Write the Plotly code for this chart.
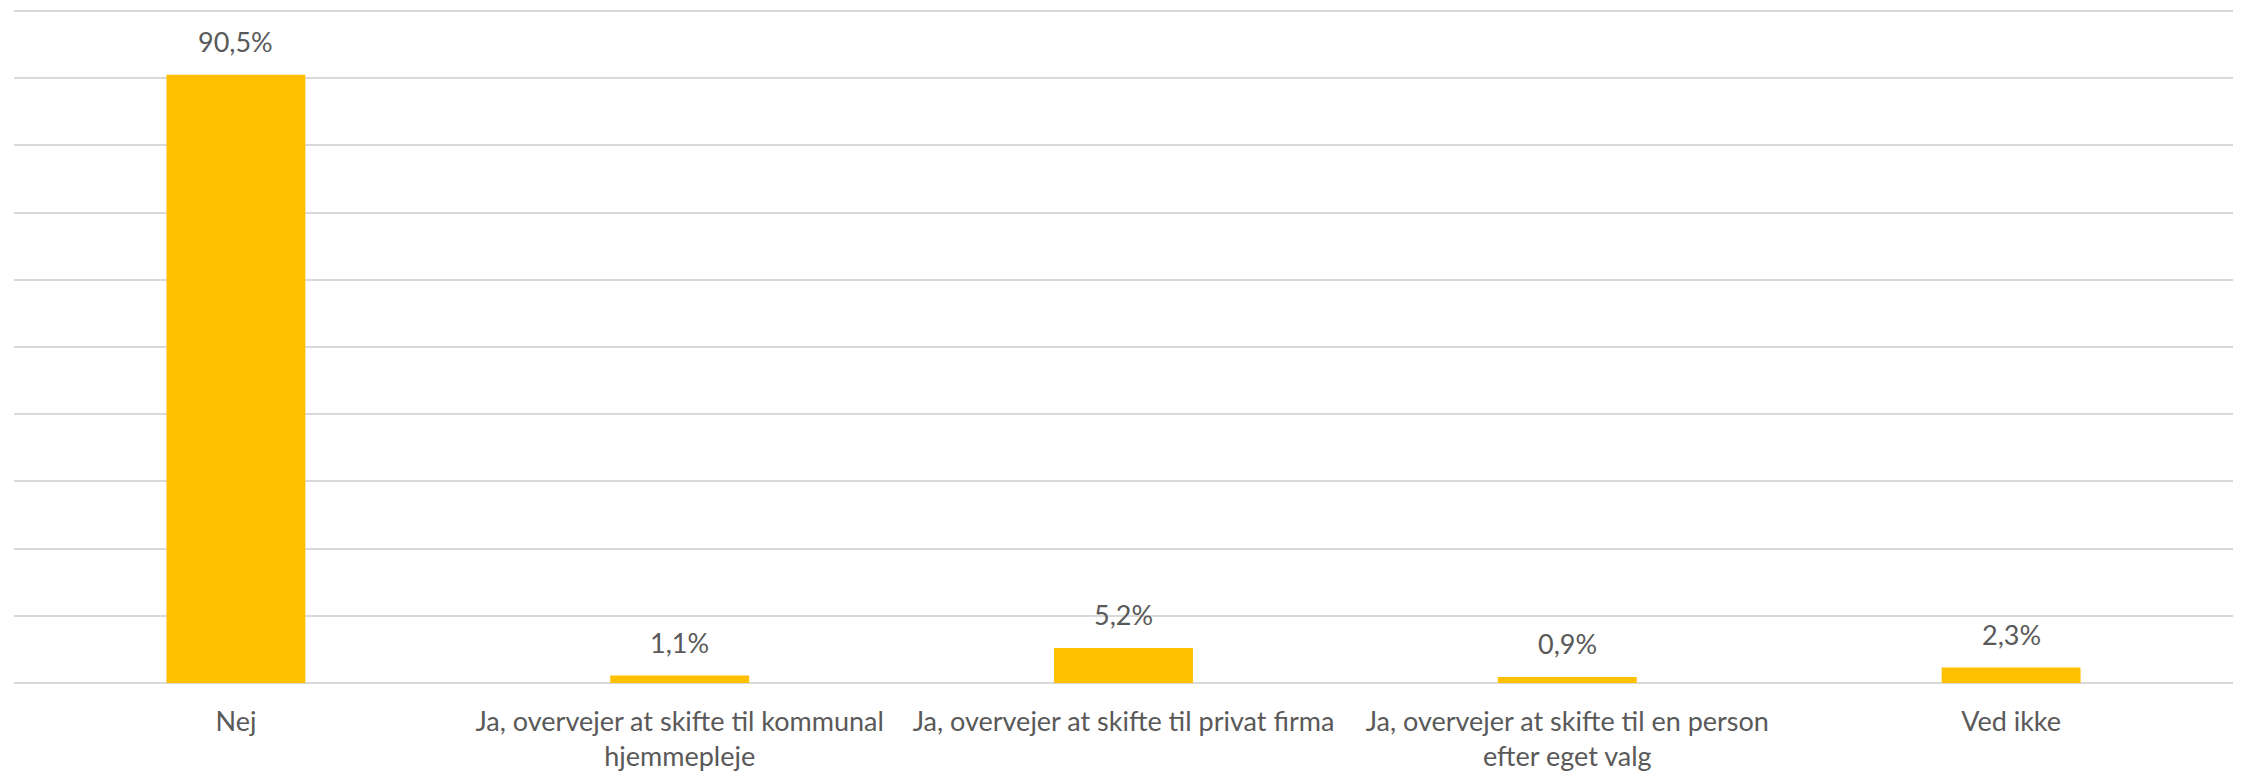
import plotly.graph_objects as go

# Survey answers and their shares (percent)
categories = [
    "Nej",
    "Ja, overvejer at skifte til kommunal<br>hjemmepleje",
    "Ja, overvejer at skifte til privat firma",
    "Ja, overvejer at skifte til en person<br>efter eget valg",
    "Ved ikke",
]
shares = [90.5, 1.1, 5.2, 0.9, 2.3]

FONT = "Lato"
TEXT_COLOR = "#595959"
BAR_COLOR = "#FFC000"
GRID_COLOR = "#D9D9D9"
Y_MAX = 100.6

fig = go.Figure(
    go.Bar(
        x=categories,
        y=shares,
        marker=dict(color=BAR_COLOR, line=dict(width=0)),
        hoverinfo="skip",
    )
)

# Value labels above each bar
for cat, val in zip(categories, shares):
    fig.add_annotation(
        x=cat,
        y=val,
        text=f"{val:.1f}%".replace(".", ","),
        showarrow=False,
        yanchor="bottom",
        yshift=15,
        font=dict(family=FONT, size=27, color=TEXT_COLOR),
    )

fig.update_layout(
    width=2244,
    height=772,
    margin=dict(l=14, r=11, t=7, b=89),
    paper_bgcolor="white",
    plot_bgcolor="white",
    separators=",.",
    bargap=0.687,
    showlegend=False,
    font=dict(family=FONT, size=27, color=TEXT_COLOR),
)

fig.update_xaxes(
    showline=False,
    ticks="",
    automargin=False,
    tickfont=dict(family=FONT, size=27, color=TEXT_COLOR),
    ticklabelstandoff=20,
)

fig.update_yaxes(
    range=[0, Y_MAX],
    tickvals=list(range(0, 101, 10)),
    showticklabels=False,
    showgrid=True,
    gridcolor=GRID_COLOR,
    gridwidth=2,
    zeroline=True,
    zerolinecolor=GRID_COLOR,
    zerolinewidth=2,
)

fig.write_html("out.html")
